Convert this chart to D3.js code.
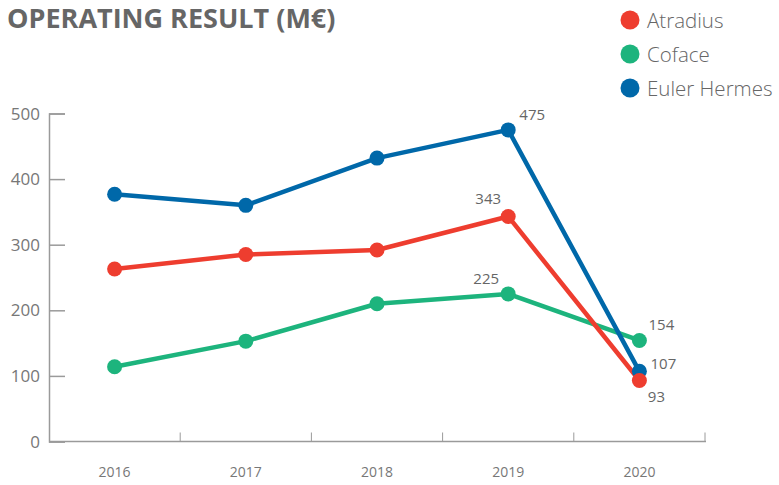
<!DOCTYPE html>
<html>
<head>
<meta charset="utf-8">
<script src="https://cdn.jsdelivr.net/npm/d3@7"></script>
<style>
  body { margin: 0; background: #fff; }
  svg text { font-family: "Open Sans", Lato, sans-serif; }
</style>
</head>
<body>
<div id="chart"></div>
<script>
// Operating result (M€) of the three credit insurers, 2016-2020

const years = ["2016", "2017", "2018", "2019", "2020"];
const seriesNames = ["Atradius", "Coface", "Euler Hermes"];
const atradius = [263, 285, 292, 343, 93];
const coface = [114, 153, 210, 225, 154];
const eulerHermes = [377, 360, 432, 475, 107];
const yTicks = [0, 100, 200, 300, 400, 500];

const colors = { "Atradius": "#ee3d2f", "Coface": "#1db47d", "Euler Hermes": "#0068a9" };

const series = [
  { name: "Atradius", values: atradius },
  { name: "Coface", values: coface },
  { name: "Euler Hermes", values: eulerHermes }
];

// value labels shown on the chart: [series, year index, dx, dy]
const valueLabels = [
  ["Euler Hermes", 3, 24, -10],
  ["Atradius", 3, -20, -12],
  ["Coface", 3, -22, -10],
  ["Coface", 4, 22, -10],
  ["Euler Hermes", 4, 24, -2],
  ["Atradius", 4, 17, 22]
];

const width = 779, height = 485;

const svg = d3.select("#chart")
  .append("svg")
  .attr("width", width)
  .attr("height", height);

// Scales
const x = d3.scaleBand()
  .domain(years)
  .range([49, 705]);

const y = d3.scaleLinear()
  .domain([0, 500])
  .range([441.5, 113.5]);

const axisColor = "#9a9a9a";

// Y axis (ticks point inward)
const yAxis = svg.append("g")
  .attr("transform", "translate(49,0)")
  .call(d3.axisRight(y).tickValues(yTicks).tickSize(16).tickFormat(""));
yAxis.select(".domain").attr("stroke", axisColor).attr("stroke-width", 1.5);
yAxis.selectAll(".tick line").attr("stroke", axisColor).attr("stroke-width", 1.5);

svg.selectAll(".ylabel")
  .data(yTicks)
  .enter()
  .append("text")
  .attr("class", "ylabel")
  .attr("x", 40)
  .attr("y", d => y(d) + 6)
  .attr("text-anchor", "end")
  .style("font-size", "17px")
  .style("fill", "#777")
  .text(d => d);

// X axis: baseline with ticks at band boundaries
svg.append("line")
  .attr("x1", 49).attr("x2", 706)
  .attr("y1", y(0)).attr("y2", y(0))
  .attr("stroke", axisColor).attr("stroke-width", 1.5);

svg.selectAll(".xtick")
  .data(years)
  .enter()
  .append("line")
  .attr("class", "xtick")
  .attr("x1", d => x(d) + x.bandwidth())
  .attr("x2", d => x(d) + x.bandwidth())
  .attr("y1", y(0))
  .attr("y2", y(0) - 9)
  .attr("stroke", axisColor)
  .attr("stroke-width", 1);

svg.selectAll(".xlabel")
  .data(years)
  .enter()
  .append("text")
  .attr("class", "xlabel")
  .attr("x", d => x(d) + x.bandwidth() / 2)
  .attr("y", 477)
  .attr("text-anchor", "middle")
  .style("font-size", "14px")
  .style("fill", "#777")
  .text(d => d);

// Lines
const line = d3.line()
  .x((d, i) => x(years[i]) + x.bandwidth() / 2)
  .y(d => y(d));

// draw Coface first, then Euler Hermes, then Atradius on top
const drawOrder = ["Coface", "Euler Hermes", "Atradius"];
drawOrder.forEach(name => {
  const s = series.find(d => d.name === name);
  svg.append("path")
    .datum(s.values)
    .attr("fill", "none")
    .attr("stroke", colors[name])
    .attr("stroke-width", 4.5)
    .attr("stroke-linejoin", "round")
    .attr("d", line);
});

drawOrder.forEach(name => {
  const s = series.find(d => d.name === name);
  svg.selectAll(null)
    .data(s.values)
    .enter()
    .append("circle")
    .attr("cx", (d, i) => x(years[i]) + x.bandwidth() / 2)
    .attr("cy", d => y(d))
    .attr("r", 7.5)
    .attr("fill", colors[name]);
});

// Value labels
svg.selectAll(".vlabel")
  .data(valueLabels)
  .enter()
  .append("text")
  .attr("class", "vlabel")
  .attr("x", d => x(years[d[1]]) + x.bandwidth() / 2 + d[2])
  .attr("y", d => y(series.find(s => s.name === d[0]).values[d[1]]) + d[3])
  .attr("text-anchor", "middle")
  .style("font-size", "15px")
  .style("fill", "#666")
  .text(d => series.find(s => s.name === d[0]).values[d[1]]);

// Title
svg.append("text")
  .attr("x", 7)
  .attr("y", 28)
  .style("font-size", "27px")
  .style("font-weight", "bold")
  .style("fill", "#666")
  .text("OPERATING RESULT (M€)");

// Legend
const legend = svg.selectAll(".legend")
  .data(seriesNames)
  .enter()
  .append("g")
  .attr("class", "legend")
  .attr("transform", (d, i) => `translate(630,${20 + i * 34})`);

legend.append("circle")
  .attr("r", 9.5)
  .attr("fill", d => colors[d]);

legend.append("text")
  .attr("x", 17)
  .attr("y", 7.5)
  .style("font-size", "20.5px")
  .style("font-weight", 300)
  .style("fill", "#666")
  .text(d => d);
</script>
</body>
</html>
